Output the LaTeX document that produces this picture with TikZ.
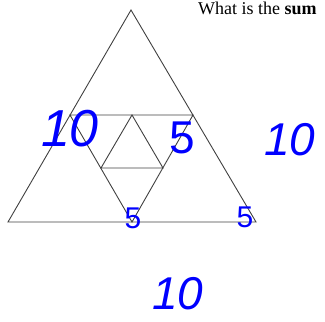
\documentclass[tikz,border=0pt]{standalone}
\usepackage{fontspec}
\setmainfont{Liberation Serif}
\newfontfamily\handfont{Liberation Sans}
\tikzset{
  edge/.style={draw=black!75, line width=0.9pt},
  hand/.style={text=blue, inner sep=0pt, anchor=center},
  pt/.style={coordinate}
}
\begin{document}
\begin{tikzpicture}[x=1pt,y=-1pt]
\useasboundingbox (0,0) rectangle (325,322);
\clip (0,0) rectangle (325,322);
% outer triangle vertices
\coordinate (A) at (131,10);
\coordinate (B) at (8,222);
\coordinate (C) at (256,222);
% midpoints
\coordinate (L) at (70,115);
\coordinate (R) at (193,115);
\coordinate (M) at (132,222);
% inner upright triangle
\coordinate (T) at (132,115);
\coordinate (P) at (101,168);
\coordinate (Q) at (163,168);
\draw[edge] (A) -- (B) -- (C) -- cycle;
\draw[edge] (L) -- (R) -- (M) -- cycle;
\draw[edge] (T) -- (P) -- (Q) -- cycle;
% question text
\node[anchor=base west, inner sep=0pt, font=\fontsize{18}{18}\selectfont] (q) at (198,14) {What is the \textbf{sum}};
% handwritten labels
\node[hand, font=\handfont\itshape\fontsize{52}{52}\selectfont] (n1) at (70,129) {10};
\node[hand, font=\handfont\fontsize{46}{46}\selectfont] (n2) at (182,138) {5};
\node[hand, font=\handfont\itshape\fontsize{46}{46}\selectfont] (n3) at (290,140) {10};
\node[hand, font=\handfont\fontsize{30}{30}\selectfont] (n4) at (133,218) {5};
\node[hand, font=\handfont\fontsize{30}{30}\selectfont] (n5) at (245,217) {5};
\node[hand, font=\handfont\itshape\fontsize{46}{46}\selectfont] (n6) at (178,294) {10};
\end{tikzpicture}
\end{document}
